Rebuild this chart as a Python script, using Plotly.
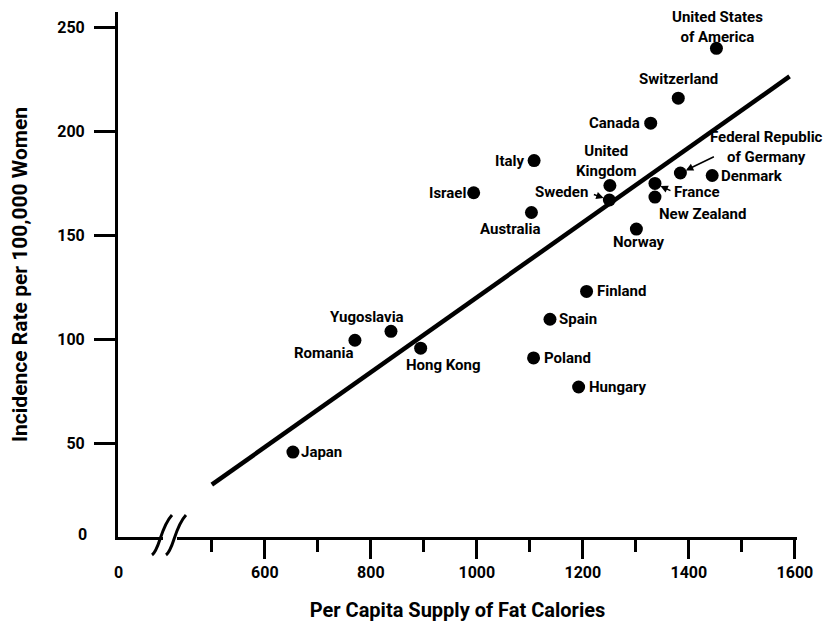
import plotly.graph_objects as go

# country data: per capita fat calories vs incidence rate per 100,000 women
countries = ["United States<br>of America", "Switzerland", "Canada", "Italy", "Israel",
             "United<br>Kingdom", "Sweden", "Federal Republic<br>of Germany", "France",
             "Denmark", "New Zealand", "Australia", "Norway", "Finland", "Spain",
             "Poland", "Hungary", "Yugoslavia", "Romania", "Hong Kong", "Japan"]
fat_calories = [1452, 1380, 1328, 1108, 994, 1251, 1250, 1384, 1336, 1444, 1336,
                1103, 1301, 1207, 1138, 1107, 1192, 838, 770, 894, 653]
incidence = [240, 216, 204, 186, 170.5, 174, 167, 180, 175, 178.8, 168.4,
             161, 153, 123, 109.6, 91, 77, 103.8, 99.5, 95.7, 45.7]

# fitted line end points
fit_x = [500, 1590]
fit_y = [30, 226.5]

x_ticks = [600, 800, 1000, 1200, 1400, 1600]
y_ticks = [50, 100, 150, 200, 250]

FONT = "Roboto, Liberation Sans, sans-serif"

# label placement: (xanchor, yanchor, xshift, yshift)
place = {
    "United States<br>of America": ("center", "bottom", 1, 0),
    "Switzerland": ("center", "bottom", 0, 8),
    "Canada": ("right", "middle", -9, 0),
    "Italy": ("right", "middle", -8, 0),
    "Israel": ("right", "middle", -6, 0),
    "United<br>Kingdom": ("center", "bottom", -4, 3),
    "Sweden": ("right", "middle", -19, 8),
    "Federal Republic<br>of Germany": ("center", "middle", 86, 26),
    "France": ("left", "middle", 17, -9),
    "Denmark": ("left", "middle", 7, 0),
    "New Zealand": ("left", "middle", 2, -17),
    "Australia": ("center", "middle", -21, -17),
    "Norway": ("center", "middle", 3, -13),
    "Finland": ("left", "middle", 8, 0),
    "Spain": ("left", "middle", 7, 0),
    "Poland": ("left", "middle", 8, 0),
    "Hungary": ("left", "middle", 8, 0),
    "Yugoslavia": ("center", "middle", -24, 14),
    "Romania": ("right", "middle", 1, -13),
    "Hong Kong": ("left", "middle", -17, -17),
    "Japan": ("left", "middle", 6, 0),
}
# arrows for crowded labels: (ax, ay) tail offset from the point
arrows = {
    "Sweden": (-17, -6),
    "Federal Republic<br>of Germany": (35, -17),
    "France": (17, 8),
}

fig = go.Figure()

fig.add_trace(go.Scatter(x=fit_x, y=fit_y, mode="lines",
                         line=dict(color="black", width=4.5), hoverinfo="skip"))
fig.add_trace(go.Scatter(x=fat_calories, y=incidence, mode="markers",
                         marker=dict(color="black", size=13), text=countries))

annotations = []
for name, xv, yv in zip(countries, fat_calories, incidence):
    xa, ya, dx, dy = place[name]
    annotations.append(dict(x=xv, y=yv, text=name, showarrow=False,
                            xanchor=xa, yanchor=ya, xshift=dx, yshift=dy,
                            font=dict(size=15), align="center"))
    if name in arrows:
        ax, ay = arrows[name]
        annotations.append(dict(x=xv, y=yv, text="", showarrow=True, ax=ax, ay=ay,
                                arrowhead=2, arrowsize=1, arrowwidth=1.5,
                                arrowcolor="black", standoff=6))

# the "0" labels at the broken origin
annotations.append(dict(x=0, y=0, xref="paper", yref="paper", text="0", showarrow=False,
                        xanchor="center", yanchor="middle", yshift=-35, font=dict(size=16)))
annotations.append(dict(x=0, y=0, xref="paper", yref="paper", text="0", showarrow=False,
                        xanchor="right", yanchor="middle", xshift=-29, yshift=3, font=dict(size=16)))

# plot area in page pixels (the page body adds an 8px offset)
L, R, T, B = 110, 789, 4, 529
def px(xp, yp):
    return f"{(xp - L) / (R - L):.4f},{(B - yp) / (B - T):.4f}"

# axis break marks
shapes = [
    dict(type="rect", xref="paper", yref="paper", line=dict(width=0), fillcolor="white",
         x0=(155 - L) / (R - L), x1=(169 - L) / (R - L),
         y0=(B - 533) / (B - T), y1=(B - 523) / (B - T), layer="above"),
]
for off in (0, 14):
    path = ("M " + px(144 + off, 547) + " C " + px(152 + off, 541) + " " +
            px(152 + off, 520) + " " + px(164 + off, 507))
    shapes.append(dict(type="path", xref="paper", yref="paper", path=path,
                       line=dict(color="black", width=3), layer="above"))

fig.update_layout(
    width=831, height=626,
    margin=dict(l=L, r=831 - R, t=T, b=626 - B, autoexpand=False),
    paper_bgcolor="white", plot_bgcolor="white",
    showlegend=False,
    font=dict(family=FONT, color="black", weight="bold"),
    annotations=annotations,
    shapes=shapes,
    xaxis=dict(range=[323, 1604], tickvals=x_ticks, ticks="outside", ticklen=19,
               tickwidth=3, tickcolor="black", showline=True, linewidth=3,
               linecolor="black", showgrid=False, zeroline=False, automargin=False,
               tickfont=dict(size=16),
               minor=dict(tickvals=[500, 700, 900, 1100, 1300, 1500], ticks="outside",
                          ticklen=12, tickwidth=3, tickcolor="black", showgrid=False),
               title=dict(text="Per Capita Supply of Fat Calories", font=dict(size=20),
                          standoff=22)),
    yaxis=dict(range=[4.8, 257.5], tickvals=y_ticks, ticks="outside", ticklen=21,
               tickwidth=3, tickcolor="black", showline=True, linewidth=3,
               linecolor="black", showgrid=False, zeroline=False, automargin=False,
               tickfont=dict(size=16), ticklabelstandoff=6,
               title=dict(text="Incidence Rate per 100,000 Women", font=dict(size=21),
                          standoff=30)),
)

fig.write_html("out.html")
